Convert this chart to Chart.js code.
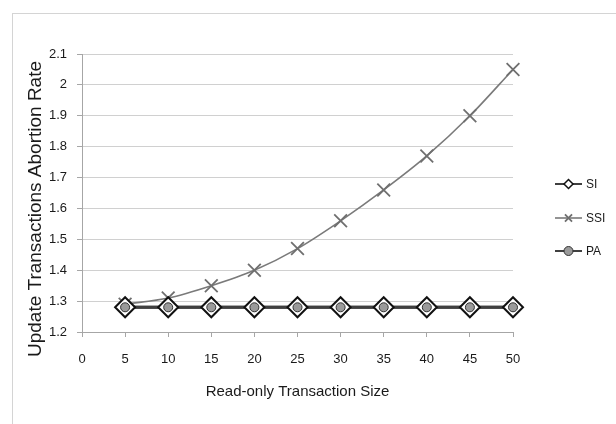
<!DOCTYPE html>
<html>
<head>
<meta charset="utf-8">
<script src="https://cdn.jsdelivr.net/npm/chart.js@4/dist/chart.umd.min.js"></script>
<style>
  html, body { margin: 0; padding: 0; background: #fff; }
  #wrap { width: 616px; height: 424px; }
</style>
</head>
<body>
<div id="wrap"><canvas id="c" width="616" height="424"></canvas></div>
<script>
// ---- data ----
const sizes = [5, 10, 15, 20, 25, 30, 35, 40, 45, 50];
const siValues  = [1.28, 1.28, 1.28, 1.28, 1.28, 1.28, 1.28, 1.28, 1.28, 1.28];
const ssiValues = [1.29, 1.31, 1.35, 1.40, 1.47, 1.56, 1.66, 1.77, 1.90, 2.05];
const paValues  = [1.28, 1.28, 1.28, 1.28, 1.28, 1.28, 1.28, 1.28, 1.28, 1.28];
const seriesNames = ['SI', 'SSI', 'PA'];
const xTitle = 'Read-only Transaction Size';
const yTitle = 'Update Transactions Abortion Rate';

const toPts = (vals) => sizes.map((x, i) => ({ x: x, y: vals[i] }));

Chart.defaults.font.family = "'Liberation Sans', Arial, sans-serif";
Chart.defaults.color = '#1a1a1a';

const styles = {
  SI:  { pointStyle: 'rectRot', line: '#404040', lineW: 3, border: '#111', fill: '#fff', r: 10, bw: 2, lr: 4.5 },
  SSI: { pointStyle: 'crossRot', line: '#7a7a7a', lineW: 1.6, border: '#6f6f6f', fill: '#6f6f6f', r: 9, bw: 1.8, lr: 5 },
  PA:  { pointStyle: 'circle', line: '#404040', lineW: 3, border: '#333', fill: '#9a9a9a', r: 4.5, bw: 1, lr: 4.5 }
};

const frame = {
  id: 'frame',
  beforeDraw(chart) {
    const ctx = chart.ctx;
    ctx.save();
    ctx.fillStyle = '#fff';
    ctx.fillRect(0, 0, chart.width, chart.height);
    ctx.strokeStyle = '#d4d4d4';
    ctx.lineWidth = 1;
    ctx.strokeRect(12.5, 13.5, 800, 800);
    ctx.restore();
  }
};

const yTitlePlugin = {
  id: 'yTitle',
  afterDraw(chart) {
    const ctx = chart.ctx;
    const a = chart.chartArea;
    ctx.save();
    ctx.translate(a.left - 46, (a.top + a.bottom) / 2 + 16);
    ctx.rotate(-Math.PI / 2);
    ctx.font = "19px 'Liberation Sans', Arial, sans-serif";
    ctx.fillStyle = '#1a1a1a';
    ctx.textAlign = 'center';
    ctx.textBaseline = 'middle';
    ctx.fillText(yTitle, 0, 0);
    ctx.restore();
  }
};

const paOnTop = {
  id: 'paOnTop',
  afterDatasetsDraw(chart) {
    const meta = chart.getDatasetMeta(2);
    const ctx = chart.ctx;
    meta.data.forEach(p => p.draw(ctx));
  }
};

const legendPlugin = {
  id: 'customLegend',
  afterDraw(chart) {
    const ctx = chart.ctx;
    const a = chart.chartArea;
    const x0 = a.right + 42, x1 = a.right + 69;
    const ys = [a.top + 130, a.top + 164, a.top + 197];
    ctx.save();
    seriesNames.forEach((name, i) => {
      const s = styles[name];
      const y = ys[i];
      ctx.strokeStyle = s.line;
      ctx.lineWidth = name === 'SSI' ? 1.6 : 2;
      ctx.beginPath(); ctx.moveTo(x0, y); ctx.lineTo(x1, y); ctx.stroke();
      ctx.fillStyle = s.fill;
      ctx.strokeStyle = s.border;
      ctx.lineWidth = name === 'SI' ? 1.5 : s.bw;
      if (Chart.helpers && Chart.helpers.drawPoint) {
        Chart.helpers.drawPoint(ctx, { pointStyle: s.pointStyle, radius: s.lr, rotation: 0, borderWidth: ctx.lineWidth }, (x0 + x1) / 2, y);
      }
      ctx.fillStyle = '#1a1a1a';
      ctx.font = "12px 'Liberation Sans', Arial, sans-serif";
      ctx.textBaseline = 'middle';
      ctx.textAlign = 'left';
      ctx.fillText(name, x1 + 4, y + 1);
    });
    ctx.restore();
  }
};

const mk = (name, vals, order) => {
  const s = styles[name];
  return {
    label: name,
    data: toPts(vals),
    order: order,
    clip: false,
    borderColor: s.line,
    borderWidth: s.lineW,
    pointStyle: s.pointStyle,
    pointRadius: s.r,
    pointHoverRadius: s.r,
    pointBorderColor: s.border,
    pointBackgroundColor: s.fill,
    pointBorderWidth: s.bw,
    tension: name === 'SSI' ? 0.4 : 0,
    cubicInterpolationMode: name === 'SSI' ? 'monotone' : 'default',
    fill: false
  };
};

new Chart(document.getElementById('c'), {
  type: 'line',
  data: {
    datasets: [
      mk('SI', siValues, 2),
      mk('SSI', ssiValues, 3),
      mk('PA', paValues, 4)
    ]
  },
  options: {
    responsive: false,
    devicePixelRatio: 1,
    animation: false,
    layout: { padding: { top: 54, right: 103, left: 0, bottom: 0 } },
    plugins: { legend: { display: false }, tooltip: { enabled: false } },
    scales: {
      x: {
        type: 'linear',
        min: 0, max: 50,
        afterFit(scale) { scale.height = 92; },
        ticks: { stepSize: 5, padding: 15, font: { size: 13 }, color: '#1a1a1a', maxRotation: 0 },
        grid: { drawOnChartArea: false, drawTicks: true, tickLength: 5, color: '#a6a6a6' },
        border: { color: '#a6a6a6', width: 1 },
        title: { display: true, text: xTitle, font: { size: 15 }, color: '#1a1a1a', padding: { top: 4, bottom: 23 } }
      },
      y: {
        min: 1.2, max: 2.1,
        afterFit(scale) { scale.width = 82; },
        ticks: {
          stepSize: 0.1, padding: 10, font: { size: 13 }, color: '#1a1a1a',
          callback: (v) => String(Number(v.toFixed(1)))
        },
        grid: { color: '#d0d0d0', tickLength: 5, tickColor: '#a6a6a6' },
        border: { color: '#a6a6a6', width: 1 },
        title: { display: false }
      }
    }
  },
  plugins: [frame, paOnTop, legendPlugin, yTitlePlugin]
});
</script>
</body>
</html>
